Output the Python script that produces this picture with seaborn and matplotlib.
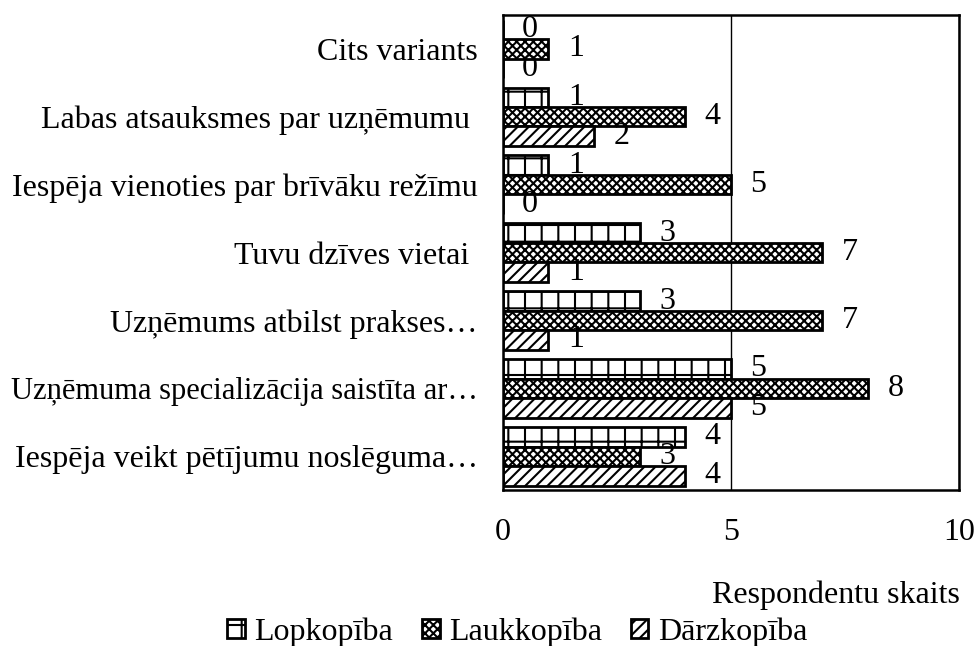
import matplotlib
matplotlib.use('Agg')
import pandas as pd
import matplotlib.pyplot as plt
import seaborn as sns
from matplotlib.patches import Patch

categories = [
    'Cits variants',
    'Labas atsauksmes par uzņēmumu ',
    'Iespēja vienoties par brīvāku režīmu',
    'Tuvu dzīves vietai ',
    'Uzņēmums atbilst prakses…',
    'Uzņēmuma specializācija saistīta ar…',
    'Iespēja veikt pētījumu noslēguma…',
]
series = ['Lopkopība', 'Laukkopība', 'Dārzkopība']
lopkopiba = [0, 1, 1, 3, 3, 5, 4]
laukkopiba = [1, 4, 5, 7, 7, 8, 3]
darzkopiba = [0, 2, 0, 1, 1, 5, 4]
hatches = ['+', 'xxxx', '///']

rows = []
for name, vals in zip(series, [lopkopiba, laukkopiba, darzkopiba]):
    for cat, v in zip(categories, vals):
        rows.append({'kategorija': cat, 'skaits': v, 'nozare': name})
df = pd.DataFrame(rows)

sns.set_style('white')
plt.rcParams['font.family'] = ['Liberation Serif', 'DejaVu Serif']
plt.rcParams['hatch.linewidth'] = 1.5
plt.rcParams['text.color'] = 'black'
plt.rcParams['xtick.color'] = 'black'
plt.rcParams['ytick.color'] = 'black'
plt.rcParams['axes.labelcolor'] = 'black'

FS = 23

fig = plt.figure(figsize=(9.78, 6.46), dpi=100)
ax = fig.add_axes([0.514, 0.241, 0.467, 0.736])

sns.barplot(data=df, y='kategorija', x='skaits', hue='nozare', orient='h',
            order=categories, hue_order=series, palette=['white'] * 3,
            edgecolor='black', linewidth=2, width=0.86, gap=0,
            legend=False, ax=ax)

for cont, h in zip(ax.containers, hatches):
    for p in cont:
        p.set_hatch(h)
        p.set_edgecolor('black')
    ax.bar_label(cont, padding=14, fontsize=FS, color='black')

ax.set_xlim(0, 10)
ax.set_xticks([0, 5, 10])
ax.xaxis.grid(True, color='black', linewidth=1)
ax.set_axisbelow(True)
for s in ax.spines.values():
    s.set_visible(True)
    s.set_color('black')
    s.set_linewidth(1.8)
ax.tick_params(axis='x', length=0, pad=20, labelsize=FS)
ax.tick_params(axis='y', length=0, pad=18, labelsize=FS)
# longest label is a bit wider in this font, shrink it so it fits
for lbl in ax.get_yticklabels():
    if lbl.get_text().startswith('Uzņēmuma spec'):
        lbl.set_fontsize(22)
ax.set_ylabel('')
ax.set_xlabel('Respondentu skaits', loc='right', fontsize=FS, labelpad=24)

handles = [Patch(facecolor='white', edgecolor='black', hatch=h, linewidth=2, label=s)
           for s, h in zip(series, hatches)]
fig.legend(handles=handles, loc='center', bbox_to_anchor=(0.529, 0.022), ncol=3,
           frameon=False, fontsize=FS, handlelength=0.55, handleheight=0.55,
           handletextpad=0.3, columnspacing=0.9)

fig.savefig('out.png', dpi=100)
